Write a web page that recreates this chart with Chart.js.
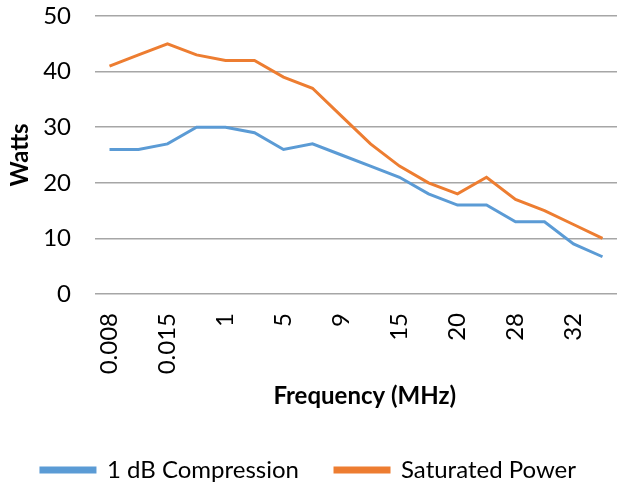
<!DOCTYPE html>
<html>
<head>
<meta charset="utf-8">
<script src="https://cdn.jsdelivr.net/npm/chart.js@4"></script>
<style>
  html, body { margin: 0; padding: 0; background: #fff; }
  #wrap { width: 634px; height: 485px; }
</style>
</head>
<body>
<div id="wrap"><canvas id="chart" width="634" height="485"></canvas></div>
<script>
// categories: only every other label is printed on the axis
const frequencies = ['0.008', '', '0.015', '', '1', '', '5', '', '9', '', '15', '', '20', '', '28', '', '32', ''];
const compression1dB = [26, 26, 27, 30, 30, 29, 26, 27, 25, 23, 21, 18, 16, 16, 13, 13, 9, 6.7];
const saturatedPower = [41, 43, 45, 43, 42, 42, 39, 37, 32, 27, 23, 20, 18, 21, 17, 15, 12.5, 10];
const yTicks = [0, 10, 20, 30, 40, 50];

const FONT = 'Lato, "Open Sans", sans-serif';

const ctx = document.getElementById('chart').getContext('2d');
new Chart(ctx, {
    type: 'line',
    data: {
        labels: frequencies,
        datasets: [
            {
                label: '1 dB Compression',
                data: compression1dB,
                borderColor: '#5b9bd5',
                backgroundColor: '#5b9bd5',
                borderWidth: 3,
                pointRadius: 0,
                tension: 0
            },
            {
                label: 'Saturated Power',
                data: saturatedPower,
                borderColor: '#ed7d31',
                backgroundColor: '#ed7d31',
                borderWidth: 3,
                pointRadius: 0,
                tension: 0
            }
        ]
    },
    options: {
        responsive: false,
        animation: false,
        layout: { padding: { left: 0, right: 17, top: 16, bottom: -7 } },
        plugins: {
            tooltip: { enabled: false },
            legend: {
                position: 'bottom',
                labels: {
                    boxWidth: 54,
                    boxHeight: 4,
                    padding: 36,
                    color: '#000',
                    font: { family: FONT, size: 24 }
                }
            }
        },
        scales: {
            x: {
                offset: true,
                afterFit: scale => {
                    scale.height = 128;
                    scale.paddingLeft = 0;
                    scale.paddingRight = 0;
                },
                grid: { display: false, drawTicks: false },
                border: { display: false },
                ticks: {
                    autoSkip: false,
                    maxRotation: 90,
                    minRotation: 90,
                    padding: 19,
                    color: '#000',
                    font: { family: FONT, size: 24 }
                },
                title: {
                    display: true,
                    text: '   Frequency (MHz)',
                    color: '#000',
                    padding: { top: 8, bottom: 11 },
                    font: { family: FONT, size: 24, weight: 'bold' }
                }
            },
            y: {
                min: 0,
                max: 50,
                afterBuildTicks: scale => { scale.ticks = yTicks.map(v => ({ value: v })); },
                afterFit: scale => {
                    scale.width = 95;
                    scale.paddingTop = 0;
                    scale.paddingBottom = 0;
                },
                grid: { color: '#a6a6a6', lineWidth: 1.5, drawTicks: false },
                border: { display: false },
                ticks: {
                    padding: 24,
                    color: '#000',
                    font: { family: FONT, size: 24 }
                },
                title: {
                    display: true,
                    text: 'Watts',
                    color: '#000',
                    padding: { top: 6, bottom: 0 },
                    font: { family: FONT, size: 24, weight: 'bold' }
                }
            }
        }
    }
});
</script>
</body>
</html>
